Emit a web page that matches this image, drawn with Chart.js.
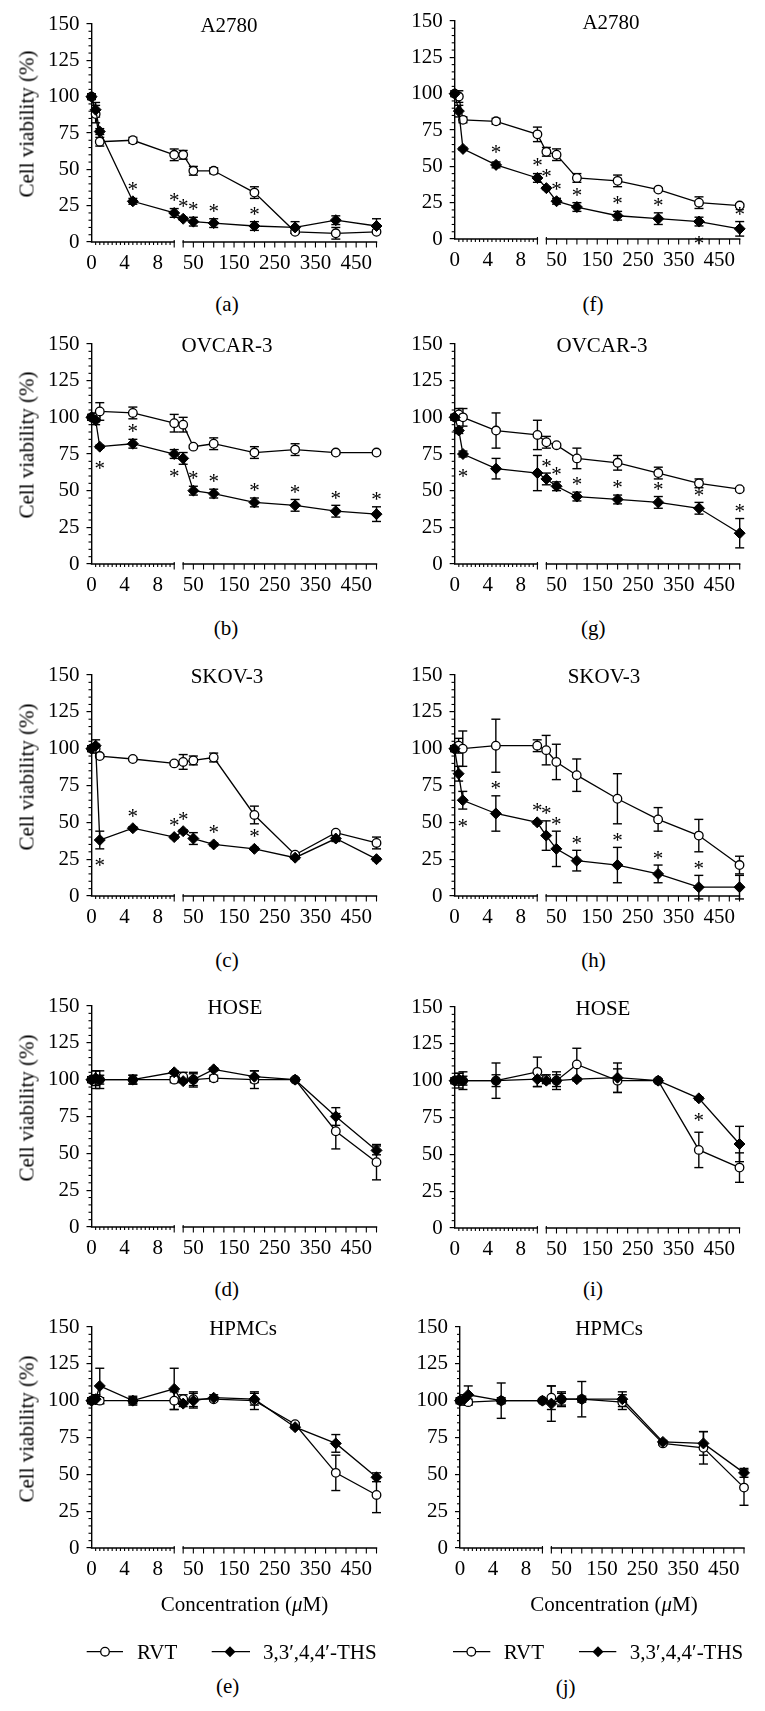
<!DOCTYPE html>
<html><head><meta charset="utf-8">
<script src="https://cdn.jsdelivr.net/npm/chart.js@4.4.1/dist/chart.umd.min.js"></script>
<style>
html,body{margin:0;padding:0;background:#fff;}
body{width:765px;height:1711px;position:relative;overflow:hidden;font-family:"Liberation Serif","Times New Roman",serif;color:#000;}
canvas{position:absolute;}
.t{position:absolute;white-space:nowrap;font-size:21px;line-height:1;transform:translate(-50%,-50%);}
.l{position:absolute;white-space:nowrap;font-size:21px;line-height:1;transform:translate(0,-50%);}
.yl{position:absolute;white-space:nowrap;font-size:21px;line-height:1;transform:translate(-50%,-50%) rotate(-90deg);}
svg{position:absolute;left:0;top:0;}
</style></head><body>
<script>
// ---------------- data ----------------
const concentrations = [0, 0.5, 1, 5, 10, 25, 50, 100, 200, 300, 400, 500];
const xTickLabels = [0, 4, 8, 50, 150, 250, 350, 450];
const yTickStep = 25;
const seriesNames = ["RVT", "3,3\u2032,4,4\u2032-THS"];
const yAxisTitle = "Cell viability (%)";
const xAxisTitle = "Concentration (";

// (a) A2780
const aRvt    = [100, 88, 69, 70, 60, 60, 49, 49, 34, 7, 6, 7];
const aRvtErr = [2, 6, 3, 2, 4, 3, 3, 2, 4, 1, 4, 1];
const aThs    = [100, 91, 76, 28, 20, 16, 14, 13, 11, 10, 15, 11];
const aThsErr = [1, 5, 2, 2, 3, 1, 3, 3, 3, 4, 3, 5];
const aStars  = ['', '', '', 'a', 'a', 'a', 'a', 'a', 'a', '', '', ''];
// (b) OVCAR-3
const bRvt    = [100, 100, 104, 103, 96, 95, 80, 82, 76, 78, 76, 76];
const bRvtErr = [2, 3, 6, 4, 6, 5, 1, 4, 4, 4, 1, 1];
const bThs    = [100, 98, 80, 82, 75, 72, 50, 48, 42, 40, 36, 34];
const bThsErr = [1, 3, 1, 3, 3, 4, 3, 3, 3, 4, 4, 5];
const bStars  = ['', '', 'b', 'a', 'b', '', 'a', 'a', 'a', 'a', 'a', 'a'];
// (c) SKOV-3
const cRvt    = [100, 100, 95, 93, 90, 91, 92, 94, 55, 28, 43, 36];
const cRvtErr = [2, 3, 1, 1, 1, 5, 3, 3, 6, 1, 1, 4];
const cThs    = [100, 102, 38, 46, 40, 44, 39, 35, 32, 26, 39, 25];
const cThsErr = [1, 4, 6, 1, 1, 1, 4, 1, 1, 1, 2, 1];
const cStars  = ['', '', 'b', 'a', 'a', 'a', '', 'a', 'a', '', '', ''];
// (d) HOSE
const dRvt    = [100, 100, 100, 100, 100, 102, 100, 101, 100, 100, 65, 44];
const dRvtErr = [2, 6, 6, 3, 2, 3, 5, 2, 6, 1, 12, 12];
const dThs    = [100, 101, 100, 100, 105, 99, 100, 107, 102, 100, 75, 52];
const dThsErr = [1, 5, 3, 3, 1, 1, 4, 1, 4, 1, 6, 3];
const dStars  = ['', '', '', '', '', '', '', '', '', '', '', ''];
// (e) HPMCs
const eRvt    = [100, 101, 100, 100, 100, 101, 101, 101, 100, 84, 51, 36];
const eRvtErr = [2, 3, 2, 2, 6, 3, 5, 1, 6, 1, 12, 12];
const eThs    = [100, 101, 110, 100, 108, 98, 100, 102, 101, 82, 71, 48];
const eThsErr = [1, 3, 12, 3, 14, 2, 5, 2, 4, 1, 6, 3];
const eStars  = ['', '', '', '', '', '', '', '', '', '', '', ''];
// (f) A2780
const fRvt    = [100, 98, 82, 81, 72, 60, 58, 42, 40, 34, 25, 23];
const fRvtErr = [2, 4, 2, 2, 5, 3, 4, 3, 4, 1, 4, 1];
const fThs    = [100, 88, 62, 51, 42, 35, 26, 22, 16, 14, 12, 7];
const fThsErr = [1, 4, 1, 2, 3, 1, 2, 3, 3, 4, 3, 5];
const fStars  = ['', '', '', 'a', 'a', 'a', 'a', 'a', 'a', 'a', 'b', 'a'];
// (g) OVCAR-3
const gRvt    = [100, 102, 100, 91, 88, 83, 81, 72, 69, 62, 55, 51];
const gRvtErr = [2, 4, 6, 12, 10, 4, 1, 7, 5, 4, 3, 1];
const gThs    = [100, 91, 75, 65, 62, 58, 53, 46, 44, 42, 38, 21];
const gThsErr = [1, 2, 2, 7, 12, 4, 3, 3, 3, 4, 4, 10];
const gStars  = ['', '', 'b', '', '', 'a', 'a', 'a', 'a', 'a', 'a', 'a'];
// (h) SKOV-3
const hRvt    = [100, 102, 100, 102, 102, 99, 91, 82, 66, 52, 41, 21];
const hRvtErr = [2, 5, 12, 18, 4, 10, 12, 11, 17, 8, 11, 6];
const hThs    = [100, 83, 65, 56, 50, 41, 32, 24, 21, 15, 6, 6];
const hThsErr = [1, 5, 6, 12, 1, 10, 12, 7, 12, 6, 8, 8];
const hStars  = ['', '', 'b', 'a', 'a', 'a', 'a', 'a', 'a', 'a', 'a', ''];
// (i) HOSE
const iRvt    = [100, 100, 100, 100, 106, 101, 100, 111, 100, 100, 53, 41];
const iRvtErr = [2, 5, 6, 12, 10, 3, 6, 11, 8, 1, 12, 10];
const iThs    = [100, 101, 100, 100, 101, 100, 100, 101, 102, 100, 88, 57];
const iThsErr = [1, 4, 3, 4, 5, 1, 4, 1, 10, 1, 1, 12];
const iStars  = ['', '', '', '', '', '', '', '', '', '', 'b', ''];
// (j) HPMCs
const jRvt    = [100, 100, 99, 100, 100, 102, 101, 101, 99, 71, 68, 41];
const jRvtErr = [2, 3, 2, 2, 1, 8, 4, 2, 5, 1, 11, 12];
const jThs    = [100, 101, 104, 100, 100, 98, 101, 101, 101, 72, 71, 51];
const jThsErr = [1, 3, 6, 12, 1, 12, 5, 12, 5, 1, 8, 3];
const jStars  = ['', '', '', '', '', '', '', '', '', '', '', ''];

const panels = [
  {key:'a', title:'A2780',   rvt:aRvt, rvtErr:aRvtErr, ths:aThs, thsErr:aThsErr, stars:aStars},
  {key:'b', title:'OVCAR-3', rvt:bRvt, rvtErr:bRvtErr, ths:bThs, thsErr:bThsErr, stars:bStars},
  {key:'c', title:'SKOV-3',  rvt:cRvt, rvtErr:cRvtErr, ths:cThs, thsErr:cThsErr, stars:cStars},
  {key:'d', title:'HOSE',    rvt:dRvt, rvtErr:dRvtErr, ths:dThs, thsErr:dThsErr, stars:dStars},
  {key:'e', title:'HPMCs',   rvt:eRvt, rvtErr:eRvtErr, ths:eThs, thsErr:eThsErr, stars:eStars},
  {key:'f', title:'A2780',   rvt:fRvt, rvtErr:fRvtErr, ths:fThs, thsErr:fThsErr, stars:fStars},
  {key:'g', title:'OVCAR-3', rvt:gRvt, rvtErr:gRvtErr, ths:gThs, thsErr:gThsErr, stars:gStars},
  {key:'h', title:'SKOV-3',  rvt:hRvt, rvtErr:hRvtErr, ths:hThs, thsErr:hThsErr, stars:hStars},
  {key:'i', title:'HOSE',    rvt:iRvt, rvtErr:iRvtErr, ths:iThs, thsErr:iThsErr, stars:iStars},
  {key:'j', title:'HPMCs',   rvt:jRvt, rvtErr:jRvtErr, ths:jThs, thsErr:jThsErr, stars:jStars}
];

// ---------------- layout (positions only) ----------------
const geo = {
  a:{col:0, ax:91.5,  rx:377,   top:24,   bot:242,  tx:229, sx:227,   sy:304},
  b:{col:0, ax:91.5,  rx:377,   top:344,  bot:564,  tx:227, sx:226,   sy:628},
  c:{col:0, ax:91.5,  rx:377,   top:675,  bot:896,  tx:227, sx:227,   sy:960},
  d:{col:0, ax:91.5,  rx:377,   top:1006, bot:1227, tx:235, sx:226.7, sy:1289},
  e:{col:0, ax:91.5,  rx:377,   top:1327, bot:1548, tx:243, sx:227.7, sy:1686},
  f:{col:1, ax:454.7, rx:739.7, top:21,   bot:239,  tx:611, sx:593,   sy:304},
  g:{col:1, ax:454.7, rx:739.7, top:344,  bot:564,  tx:602, sx:593.3, sy:628},
  h:{col:1, ax:454.5, rx:739.5, top:675,  bot:896,  tx:604, sx:593.5, sy:960},
  i:{col:1, ax:454.7, rx:739.5, top:1007, bot:1228, tx:603, sx:593,   sy:1289},
  j:{col:1, ax:460,   rx:744,   top:1327, bot:1548, tx:609, sx:565.7, sy:1686.7}
};
const FONT = '"Liberation Serif","Times New Roman",serif';

// broken axis: 0-10 segment, gap, 25-500 segment (axis units)
const SEG1_END = 10, SEG2_START = 10 + 9 / 8.3, AXIS_END = SEG2_START + 194 / 8.3;
function toAxis(c) { return c <= 10 ? c : SEG2_START + (c - 25) * (AXIS_END - SEG2_START) / 475; }

function addText(cls, html, x, y) {
  const d = document.createElement('div');
  d.className = cls; d.innerHTML = html;
  d.style.left = x + 'px'; d.style.top = y + 'px';
  document.body.appendChild(d);
}

function makePlugin(p) {
  return {
    id: 'deco' + p.key,
    beforeDatasetsDraw(chart) {
      const ctx = chart.ctx, xs = chart.scales.x, ys = chart.scales.y;
      const y0 = chart.chartArea.bottom, xa = chart.chartArea.left;
      const px = c => xs.getPixelForValue(toAxis(c));
      const seg = (x1, y1, x2, y2) => { ctx.beginPath(); ctx.moveTo(x1, y1); ctx.lineTo(x2, y2); ctx.stroke(); };
      ctx.save();
      ctx.strokeStyle = '#000';
      ctx.lineWidth = 1.4;
      seg(xa - 0.7, y0, px(10) + 0.7, y0);
      seg(px(25) - 0.7, y0, px(500) + 0.7, y0);
      ctx.lineWidth = 1.1;
      for (let v = 0.5; v < 10; v += 0.5) seg(px(v), y0, px(v), y0 + 3);
      seg(px(10), y0 - 2, px(10), y0 + 5.5);
      for (let v = 25; v <= 500; v += 25) seg(px(v), y0 - (v === 25 ? 2 : 0), px(v), y0 + 5.5);
      for (let v = 5; v < 150; v += 5) {
        if (v % yTickStep === 0) continue;
        const py = ys.getPixelForValue(v);
        seg(xa - 3, py, xa, py);
      }
      // error bars
      ctx.lineWidth = 1.4;
      const series = [[p.rvt, p.rvtErr], [p.ths, p.thsErr]];
      for (const [vals, errs] of series) {
        vals.forEach((v, i) => {
          const x = px(concentrations[i]);
          const yt = ys.getPixelForValue(v + errs[i]);
          const yb = ys.getPixelForValue(v - errs[i]);
          seg(x, yt, x, yb);
          seg(x - 4.5, yt, x + 4.5, yt);
          seg(x - 4.5, yb, x + 4.5, yb);
        });
      }
      ctx.restore();
    },
    afterDatasetsDraw(chart) {
      const ctx = chart.ctx, xs = chart.scales.x, ys = chart.scales.y;
      ctx.save();
      ctx.fillStyle = '#000';
      ctx.font = '21px ' + FONT;
      ctx.textAlign = 'center';
      ctx.textBaseline = 'alphabetic';
      p.stars.forEach((s, i) => {
        if (!s) return;
        const v = p.ths[i], e = p.thsErr[i];
        const x = xs.getPixelForValue(toAxis(concentrations[i]));
        let yc;
        if (s === 'a') yc = Math.min(ys.getPixelForValue(v + e) - 11, ys.getPixelForValue(v) - 16);
        else yc = Math.max(ys.getPixelForValue(v - e), ys.getPixelForValue(v) + 5) + 13;
        ctx.fillText('*', x, yc + 10.5);
      });
      ctx.restore();
    }
  };
}

panels.forEach(p => {
  const g = geo[p.key];
  const cx = g.col === 0 ? 0 : 383, cw = g.col === 0 ? 383 : 382;
  const ctop = g.top - 20, ch = (g.bot - g.top) + 65;
  const cv = document.createElement('canvas');
  cv.width = cw; cv.height = ch;
  cv.style.left = cx + 'px'; cv.style.top = ctop + 'px';
  cv.style.width = cw + 'px'; cv.style.height = ch + 'px';
  document.body.appendChild(cv);
  const YW = 60, XH = 35;
  new Chart(cv, {
    type: 'line',
    data: {
      datasets: [
        { label: seriesNames[1], data: concentrations.map((c, i) => ({x: toAxis(c), y: p.ths[i]})),
          borderColor: '#000', borderWidth: 1.3, tension: 0, fill: false, clip: false,
          pointStyle: 'rectRot', pointRadius: 5.5, pointBackgroundColor: '#000', pointBorderColor: '#000', pointBorderWidth: 1 },
        { label: seriesNames[0], data: concentrations.map((c, i) => ({x: toAxis(c), y: p.rvt[i]})),
          borderColor: '#000', borderWidth: 1.3, tension: 0, fill: false, clip: false,
          pointStyle: 'circle', pointRadius: 4.3, pointBackgroundColor: '#fff', pointBorderColor: '#000', pointBorderWidth: 1.3 }
      ]
    },
    options: {
      responsive: false, animation: false, devicePixelRatio: 1, events: [],
      layout: { padding: { left: g.ax - cx - YW, right: cx + cw - g.rx, top: 20, bottom: ch - 20 - (g.bot - g.top) - XH } },
      plugins: { legend: {display: false}, tooltip: {enabled: false}, title: {display: false} },
      scales: {
        x: {
          type: 'linear', min: 0, max: AXIS_END,
          afterBuildTicks: s => { s.ticks = xTickLabels.map(v => ({value: toAxis(v)})); },
          afterFit: s => { s.height = XH; s.paddingLeft = 0; s.paddingRight = 0; },
          grid: {display: false, drawTicks: false}, border: {display: false},
          ticks: { autoSkip: false, maxRotation: 0, minRotation: 0, padding: 9, color: '#000',
                   font: {family: FONT, size: 21, lineHeight: 1.2},
                   callback: (v, i) => String(xTickLabels[i]) }
        },
        y: {
          min: 0, max: 150,
          afterFit: s => { s.width = YW; s.paddingTop = 0; s.paddingBottom = 0; },
          ticks: { stepSize: yTickStep, padding: 7, color: '#000', font: {family: FONT, size: 21, lineHeight: 1.2} },
          grid: { drawOnChartArea: false, drawTicks: true, tickLength: 5, color: '#000', lineWidth: 1.2 },
          border: { display: true, color: '#000', width: 1.4 }
        }
      }
    },
    plugins: [makePlugin(p)]
  });
  addText('t', p.title, g.tx, g.top + 1);
  addText('t', '(' + p.key + ')', g.sx, g.sy);
  if (g.col === 0) addText('yl', yAxisTitle, 27, (g.top + g.bot) / 2 - 9);
});

// x-axis titles under bottom row
addText('t', xAxisTitle + '<i>\u03bc</i>M)', 244.5, 1604);
addText('t', xAxisTitle + '<i>\u03bc</i>M)', 614, 1604);

// legends
const legendY = 1651.7;
const legends = [
  {l1:[86.7,123], c:105, t1:137, l2:[211.7,250], dmd:230, t2:263},
  {l1:[453,490.3], c:471.3, t1:503.7, l2:[579,616.3], dmd:598, t2:629.7}
];
const NS = 'http://www.w3.org/2000/svg';
const svg = document.createElementNS(NS, 'svg');
svg.setAttribute('width', 765); svg.setAttribute('height', 1711);
document.body.appendChild(svg);
function el(name, attrs) { const e = document.createElementNS(NS, name); for (const k in attrs) e.setAttribute(k, attrs[k]); svg.appendChild(e); }
legends.forEach(L => {
  el('line', {x1:L.l1[0], y1:legendY, x2:L.l1[1], y2:legendY, stroke:'#000', 'stroke-width':1.3});
  el('circle', {cx:L.c, cy:legendY, r:4.3, fill:'#fff', stroke:'#000', 'stroke-width':1.3});
  el('line', {x1:L.l2[0], y1:legendY, x2:L.l2[1], y2:legendY, stroke:'#000', 'stroke-width':1.3});
  const r = 5.5;
  el('polygon', {points:`${L.dmd-r},${legendY} ${L.dmd},${legendY-r} ${L.dmd+r},${legendY} ${L.dmd},${legendY+r}`, fill:'#000'});
  addText('l', seriesNames[0], L.t1, legendY);
  addText('l', seriesNames[1], L.t2, legendY);
});
</script></body></html>
